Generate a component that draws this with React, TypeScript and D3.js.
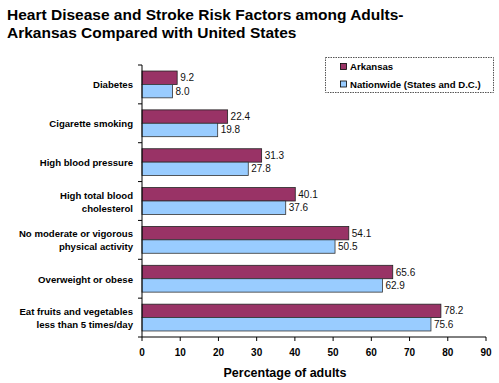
import React from "react";
import * as d3 from "d3";

const categories = [
  ["Diabetes"],
  ["Cigarette smoking"],
  ["High blood pressure"],
  ["High total blood", "cholesterol"],
  ["No moderate or vigorous", "physical activity"],
  ["Overweight or obese"],
  ["Eat fruits and vegetables", "less than 5 times/day"],
];
const arkansas = [9.2, 22.4, 31.3, 40.1, 54.1, 65.6, 78.2];
const nationwide = [8.0, 19.8, 27.8, 37.6, 50.5, 62.9, 75.6];
const xTicks = [0, 10, 20, 30, 40, 50, 60, 70, 80, 90];
const seriesNames = ["Arkansas", "Nationwide (States and D.C.)"];
const colors = ["#993366", "#99CCFF"];

export default function App() {
  const W = 499, H = 383;
  const left = 142, right = 486, top = 65, bottom = 337;
  const x = d3.scaleLinear().domain([0, 90]).range([left, right]);
  const idx = categories.map((_, i) => i);
  const y = d3.scaleBand<number>().domain(idx).range([top, bottom]).paddingInner(0.31).paddingOuter(0.155);
  const bh = y.bandwidth() / 2;
  const font = "Arial, 'Liberation Sans', sans-serif";
  const step = y.step();
  return (
    <svg width={W} height={H} style={{ position: "absolute", left: 0, top: 0, background: "#fff" }} fontFamily={font}>
      <rect width={W} height={H} fill="#fff" />
      <text x={7} y={20} fontSize={15.5} fontWeight="bold">Heart Disease and Stroke Risk Factors among Adults-</text>
      <text x={7} y={38} fontSize={15.5} fontWeight="bold">Arkansas Compared with United States</text>
      {idx.map((i) => {
        const y0 = y(i)!;
        return (
          <g key={i}>
            <rect x={x(0)} y={y0} width={x(arkansas[i]) - x(0)} height={bh} fill={colors[0]} stroke="#222" strokeWidth={0.8} />
            <rect x={x(0)} y={y0 + bh} width={x(nationwide[i]) - x(0)} height={bh} fill={colors[1]} stroke="#333" strokeWidth={0.8} />
            <text x={x(arkansas[i]) + 3} y={y0 + bh / 2 + 3.5} fontSize={10} fill="#111">{arkansas[i].toFixed(1)}</text>
            <text x={x(nationwide[i]) + 3} y={y0 + bh * 1.5 + 3.5} fontSize={10} fill="#111">{nationwide[i].toFixed(1)}</text>
            {categories[i].map((line, j) => (
              <text key={j} x={133} y={top + step * (i + 0.5) + 4 + (j - (categories[i].length - 1) / 2) * 13} fontSize={9.6} fontWeight="bold" textAnchor="end">{line}</text>
            ))}
          </g>
        );
      })}
      <line x1={left} x2={left} y1={top} y2={bottom} stroke="#000" />
      {d3.range(categories.length + 1).map((k) => (
        <line key={k} x1={left - 4} x2={left} y1={top + k * step} y2={top + k * step} stroke="#000" />
      ))}
      <line x1={left} x2={right} y1={bottom} y2={bottom} stroke="#000" />
      {xTicks.map((t) => (
        <g key={t}>
          <line x1={x(t)} x2={x(t)} y1={bottom} y2={bottom + 4} stroke="#000" />
          <text x={x(t)} y={356} fontSize={10} fontWeight="bold" textAnchor="middle">{t}</text>
        </g>
      ))}
      <text x={285} y={377} fontSize={12.5} fontWeight="bold" textAnchor="middle">Percentage of adults</text>
      <rect x={325.5} y={57.5} width={168} height={35} fill="#fff" stroke="#555" strokeDasharray="1.5,1" />
      {seriesNames.map((s, k) => (
        <g key={s}>
          <rect x={340.5} y={63.5 + k * 17.5} width={6} height={6} fill={colors[k]} stroke="#000" strokeWidth={0.8} />
          <text x={350} y={70 + k * 17.5} fontSize={9.6} fontWeight="bold">{s}</text>
        </g>
      ))}
    </svg>
  );
}
